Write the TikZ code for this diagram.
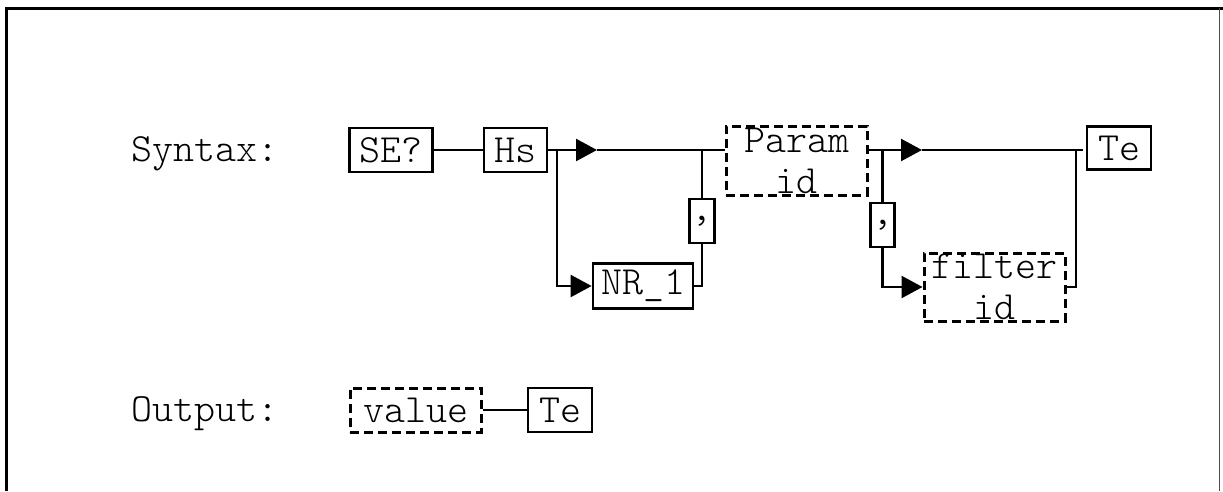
\documentclass[tikz,border=0pt]{standalone}
\usepackage{fontspec}
\setmonofont{Latin Modern Mono Light}
\usetikzlibrary{arrows.meta,calc}
\tikzset{
  txt/.style={font=\ttfamily\fontsize{40}{41}\selectfont},
  solidbox/.style={txt,draw,line width=2.8pt,inner sep=0pt,minimum height=44pt},
  dashbox/.style={txt,draw,line width=3pt,dash pattern=on 9pt off 5pt,inner sep=0pt,align=center},
  wire/.style={line width=2.4pt},
  arr/.style={wire,-{Triangle[length=21pt,width=22pt]}},
  lbl/.style={txt,anchor=base west,inner sep=0pt}
}
\begin{document}
\begin{tikzpicture}[x=1pt,y=-1pt]
\useasboundingbox (0,0) rectangle (1223,491);
% frame
\draw[line width=3pt] (5,8.5) -- (1223,8.5);
\draw[line width=3pt] (6.5,7) -- (6.5,491);
\draw[line width=1.5pt,black!70] (1219.5,8) -- (1219.5,491);

\node[lbl] (syn) at (131,161) {Syntax:};
\node[lbl] (out) at (131,421) {Output:};

\node[solidbox,minimum width=83pt] (se) at (391,150) {SE?};
\node[solidbox,minimum width=63pt] (hs) at (515.5,150) {Hs};
\node[solidbox,minimum width=100pt,minimum height=45pt] (nr) at (643,286) {NR\_1};
\node[solidbox,minimum width=25pt] (c1) at (702,221) {,};
\node[dashbox,minimum width=141pt,minimum height=69pt] (param) at (796.5,160.5) {Param\\id};
\node[solidbox,minimum width=24pt] (c2) at (882.5,225) {,};
\node[dashbox,minimum width=141pt,minimum height=68pt] (filter) at (994.5,287) {filter\\id};
\node[solidbox,minimum width=64pt,minimum height=43pt] (te) at (1119,148) {Te};

\node[dashbox,minimum width=131pt,minimum height=44pt] (val) at (415.5,410) {value};
\node[solidbox,minimum width=64pt] (te2) at (560,410) {Te};

\coordinate (b1) at (557,150);
\coordinate (a1) at (597,150);
\coordinate (j1) at (702,150);
\coordinate (b2) at (882.5,150);
\coordinate (a2) at (922,150);
\coordinate (j2) at (1076,150);
\coordinate (e2) at (1083,150);

\draw[wire] (se.east) -- (hs.west);
\draw[wire] (hs.east) -- (b1);
\draw[arr] (b1) -- (a1);
\draw[wire] (a1) -- (param.west |- a1);
\draw[arr] (b1) |- (nr.west);
\draw[wire] (nr.east) -| (c1.south);
\draw[wire] (c1.north) -- (j1);
\draw[wire] (param.east |- b2) -- (b2);
\draw[arr] (b2) -- (a2);
\draw[wire] (a2) -- (e2);
\draw[wire] (b2) -- (c2.north);
\draw[arr] (c2.south) |- (filter.west);
\draw[wire] (filter.east) -| (j2);
\draw[wire] (val.east) -- (te2.west);
\end{tikzpicture}
\end{document}
